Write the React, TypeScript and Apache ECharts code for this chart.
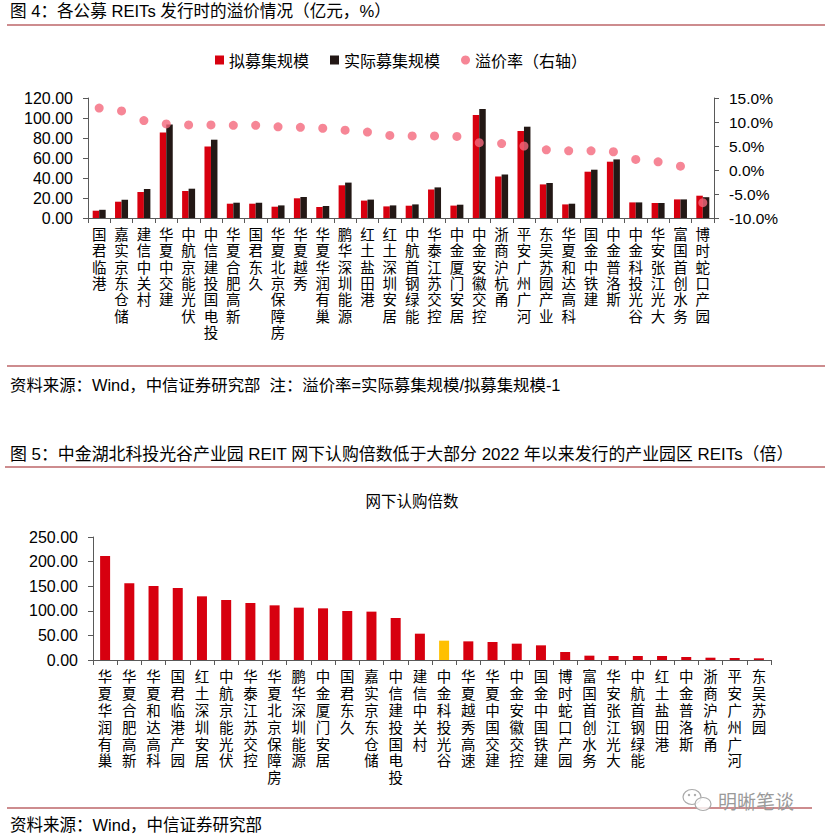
import React, { useEffect, useRef } from "react";
import * as echarts from "echarts";

// ---------- Figure 4 data ----------
const premiumCategories = [
  "国君临港", "嘉实京东仓储", "建信中关村", "华夏中交建", "中航京能光伏", "中信建投国电投",
  "华夏合肥高新", "国君东久", "华夏北京保障房", "华夏越秀", "华夏华润有巢", "鹏华深圳能源",
  "红土盐田港", "红土深圳安居", "中航首钢绿能", "华泰江苏交控", "中金厦门安居", "中金安徽交控",
  "浙商沪杭甬", "平安广州广河", "东吴苏园产业", "华夏和达高科", "国金中铁建", "中金普洛斯",
  "中金科投光谷", "华安张江光大", "富国首创水务", "博时蛇口产园",
];
const plannedScale = [
  7.3, 16.3, 26.0, 85.5, 27.0, 71.5, 14.3, 14.3, 11.3, 19.7, 11.0, 32.7, 17.4, 11.6,
  12.3, 28.5, 12.4, 103.0, 41.5, 87.0, 33.6, 13.6, 46.3, 56.3, 15.6, 15.0, 18.6, 22.3,
];
const actualScale = [
  8.2, 18.3, 29.0, 93.5, 29.3, 78.3, 15.3, 15.3, 12.6, 21.0, 12.0, 35.4, 18.4, 12.6,
  13.6, 30.6, 13.3, 109.0, 43.5, 91.3, 35.0, 14.3, 48.3, 58.6, 15.6, 15.0, 18.6, 20.8,
];
const premiumRate = [
  12.9, 12.3, 10.3, 9.6, 9.4, 9.4, 9.3, 9.3, 9.0, 8.9, 8.7, 8.3, 7.9, 7.2,
  7.1, 7.1, 7.0, 5.7, 5.5, 5.0, 4.2, 4.0, 4.0, 3.8, 2.2, 1.7, 0.8, -6.8,
];
const seriesNames = ["拟募集规模", "实际募集规模", "溢价率（右轴）"];

// ---------- Figure 5 data ----------
const subscriptionCategories = [
  "华夏华润有巢", "华夏合肥高新", "华夏和达高科", "国君临港产园", "红土深圳安居", "中航京能光伏",
  "华泰江苏交控", "华夏北京保障房", "鹏华深圳能源", "中金厦门安居", "国君东久", "嘉实京东仓储",
  "中信建投国电投", "建信中关村", "中金科投光谷", "华夏越秀高速", "华夏中国交建", "中金安徽交控",
  "国金中国铁建", "博时蛇口产园", "富国首创水务", "华安张江光大", "中航首钢绿能", "红土盐田港",
  "中金普洛斯", "浙商沪杭甬", "平安广州广河", "东吴苏园",
];
const subscriptionMultiple = [
  211.4, 155.9, 150.4, 146.4, 129.4, 122.0, 115.9, 111.1, 106.4, 105.0, 99.6, 98.3,
  85.4, 53.5, 39.3, 37.9, 36.6, 33.2, 29.8, 16.3, 8.8, 8.1, 8.1, 8.1, 6.1, 4.7, 4.1, 3.4,
];
const highlightName = "中金科投光谷";

const FONT = "'Liberation Sans', 'Noto Sans CJK SC', sans-serif";
const CJK = "'Noto Sans CJK SC', 'Liberation Sans', sans-serif";
const RED = "#d7000f";
const DARK = "#231815";
const PINK = "#f4687c";
const GOLD = "#ffc000";
const RULE = "#9b1b1e";
const AXIS = "#595959";

const vertical = (v: string) => v.split("").join("\n");

export default function App() {
  const ref = useRef<HTMLDivElement>(null);

  useEffect(() => {
    if (!ref.current) return;
    const chart = echarts.init(ref.current, null, { renderer: "svg" });

    const axisLineStyle = { show: true, lineStyle: { color: AXIS, width: 1 } };
    const tickStyle = { show: true, length: 5, lineStyle: { color: AXIS } };

    const option: any = {
      animation: false,
      backgroundColor: "#fff",
      textStyle: { fontFamily: FONT },
      legend: {
        left: 215,
        top: 52,
        padding: 0,
        itemWidth: 9,
        itemHeight: 9,
        itemGap: 21,
        textStyle: { fontSize: 16, color: "#000", fontFamily: CJK },
        data: [
          { name: seriesNames[0], icon: "rect" },
          { name: seriesNames[1], icon: "rect" },
          { name: seriesNames[2], icon: "circle" },
        ],
      },
      grid: [
        { left: 88, right: 111, top: 98, height: 120 },
        { left: 93, right: 54, top: 537, height: 123 },
      ],
      xAxis: [
        {
          type: "category",
          gridIndex: 0,
          data: premiumCategories,
          axisLine: axisLineStyle,
          axisTick: tickStyle,
          axisLabel: {
            interval: 0,
            formatter: vertical,
            fontSize: 14.5,
            lineHeight: 16.3,
            color: "#000",
            fontFamily: FONT,
            margin: 9,
          },
        },
        {
          type: "category",
          gridIndex: 1,
          data: subscriptionCategories,
          axisLine: axisLineStyle,
          axisTick: tickStyle,
          axisLabel: {
            interval: 0,
            formatter: vertical,
            fontSize: 14.5,
            lineHeight: 16.8,
            color: "#000",
            fontFamily: FONT,
            margin: 9,
          },
        },
      ],
      yAxis: [
        {
          type: "value",
          gridIndex: 0,
          min: 0,
          max: 120,
          interval: 20,
          axisLine: axisLineStyle,
          axisTick: tickStyle,
          splitLine: { show: false },
          axisLabel: {
            formatter: (v: number) => v.toFixed(2),
            fontSize: 16,
            color: "#000",
            margin: 15,
          },
        },
        {
          type: "value",
          gridIndex: 0,
          position: "right",
          min: -10,
          max: 15,
          interval: 5,
          axisLine: axisLineStyle,
          axisTick: tickStyle,
          splitLine: { show: false },
          axisLabel: {
            formatter: (v: number) => v.toFixed(1) + "%",
            fontSize: 15.5,
            color: "#000",
            margin: 15,
          },
        },
        {
          type: "value",
          gridIndex: 1,
          min: 0,
          max: 250,
          interval: 50,
          axisLine: axisLineStyle,
          axisTick: tickStyle,
          splitLine: { show: false },
          axisLabel: {
            formatter: (v: number) => v.toFixed(2),
            fontSize: 16,
            color: "#000",
            margin: 15,
          },
        },
      ],
      series: [
        {
          name: seriesNames[0],
          type: "bar",
          xAxisIndex: 0,
          yAxisIndex: 0,
          data: plannedScale,
          barWidth: 6.5,
          barGap: "0%",
          itemStyle: { color: RED },
        },
        {
          name: seriesNames[1],
          type: "bar",
          xAxisIndex: 0,
          yAxisIndex: 0,
          data: actualScale,
          barWidth: 6.5,
          barGap: "0%",
          itemStyle: { color: DARK },
        },
        {
          name: seriesNames[2],
          type: "scatter",
          xAxisIndex: 0,
          yAxisIndex: 1,
          data: premiumRate,
          symbol: "circle",
          symbolSize: 9,
          itemStyle: { color: PINK },
          z: 5,
        },
        {
          name: "网下认购倍数",
          type: "bar",
          xAxisIndex: 1,
          yAxisIndex: 2,
          barWidth: 10,
          data: subscriptionMultiple.map((v, i) =>
            subscriptionCategories[i] === highlightName
              ? { value: v, itemStyle: { color: GOLD } }
              : v
          ),
          itemStyle: { color: RED },
        },
      ],
      graphic: [
        {
          type: "text",
          left: 10,
          top: 3,
          style: {
            text: "图 4：各公募 REITs 发行时的溢价情况（亿元，%）",
            fontSize: 16.6,
            fill: "#000",
            fontFamily: FONT,
          },
        },
        { type: "line", shape: { x1: 7, y1: 25, x2: 825, y2: 25 }, style: { stroke: RULE, lineWidth: 1.2 } },
        { type: "line", shape: { x1: 7, y1: 366, x2: 825, y2: 366 }, style: { stroke: RULE, lineWidth: 1.2 } },
        {
          type: "text",
          left: 10,
          top: 377,
          style: {
            text: "资料来源：Wind，中信证券研究部  注：溢价率=实际募集规模/拟募集规模-1",
            fontSize: 16.4,
            fill: "#000",
            fontFamily: FONT,
          },
        },
        {
          type: "text",
          left: 10,
          top: 446,
          style: {
            text: "图 5：中金湖北科投光谷产业园 REIT 网下认购倍数低于大部分 2022 年以来发行的产业园区 REITs（倍）",
            fontSize: 16.9,
            fill: "#000",
            fontFamily: FONT,
          },
        },
        { type: "line", shape: { x1: 5, y1: 467, x2: 825, y2: 467 }, style: { stroke: RULE, lineWidth: 1.2 } },
        {
          type: "text",
          x: 412,
          y: 500,
          style: {
            text: "网下认购倍数",
            fontSize: 15.5,
            fill: "#000",
            fontFamily: CJK,
            align: "center",
            verticalAlign: "middle",
          },
        },
        { type: "line", shape: { x1: 7, y1: 808, x2: 812, y2: 808 }, style: { stroke: RULE, lineWidth: 1.2 } },
        {
          type: "text",
          left: 10,
          top: 817,
          style: {
            text: "资料来源：Wind，中信证券研究部",
            fontSize: 16.5,
            fill: "#000",
            fontFamily: FONT,
          },
        },
        // watermark
        {
          type: "group",
          children: [
            { type: "ellipse", shape: { cx: 692, cy: 797, rx: 9, ry: 7.5 }, style: { fill: "rgba(255,255,255,0.6)", stroke: "#aaa", lineWidth: 1.2 } },
            { type: "ellipse", shape: { cx: 703, cy: 804, rx: 8, ry: 6.5 }, style: { fill: "rgba(255,255,255,0.8)", stroke: "#aaa", lineWidth: 1.2 } },
            { type: "circle", shape: { cx: 689, cy: 795, r: 1.2 }, style: { fill: "#aaa" } },
            { type: "circle", shape: { cx: 695, cy: 795, r: 1.2 }, style: { fill: "#aaa" } },
            {
              type: "text",
              x: 718,
              y: 800,
              style: {
                text: "明晰笔谈",
                fontSize: 19,
                fill: "#9a9a9a",
                fontFamily: CJK,
                verticalAlign: "middle",
              },
            },
          ],
        },
      ],
    };

    chart.setOption(option);
    return () => chart.dispose();
  }, []);

  return (
    <div
      ref={ref}
      style={{ position: "absolute", left: 0, top: 0, width: 825, height: 840, background: "#fff" }}
    />
  );
}
